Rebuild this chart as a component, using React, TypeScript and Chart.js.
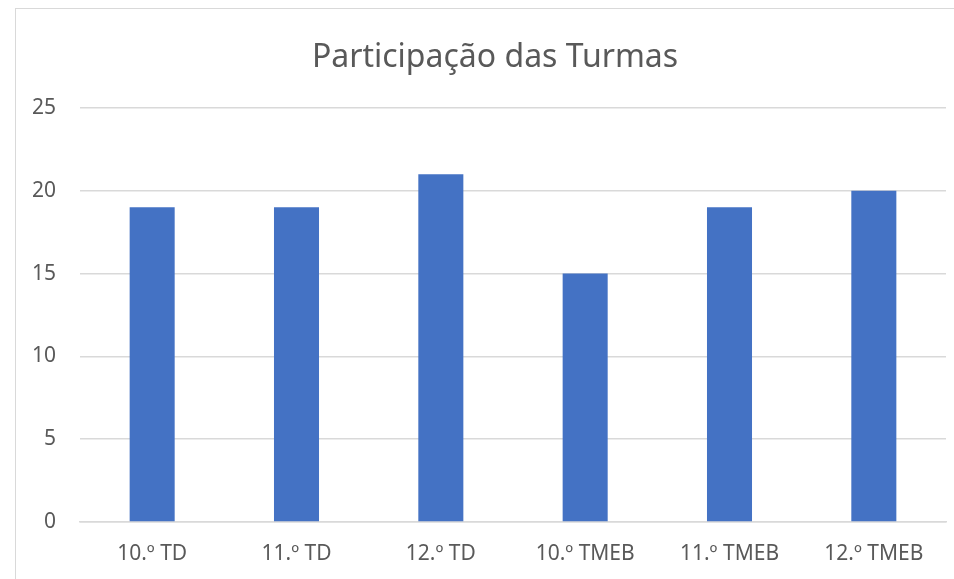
import React, { useEffect, useRef } from "react";
import { Chart, registerables } from "chart.js";

Chart.register(...registerables);

const categories = ["10.º TD", "11.º TD", "12.º TD", "10.º TMEB", "11.º TMEB", "12.º TMEB"];
const participacao = [19, 19, 21, 15, 19, 20];
const titleText = "Participação das Turmas";

const CANVAS_W = 990;

const centerTitlePlugin = {
  id: "centerTitle",
  afterLayout(chart: any) {
    if (chart.titleBlock) {
      chart.titleBlock.left = 0;
      chart.titleBlock.right = CANVAS_W;
      chart.titleBlock.width = CANVAS_W;
    }
  },
};

export default function App() {
  const ref = useRef<HTMLCanvasElement | null>(null);

  useEffect(() => {
    if (!ref.current) return;
    const chart = new Chart(ref.current, {
      type: "bar",
      data: {
        labels: categories,
        datasets: [
          {
            label: "Participação",
            data: participacao,
            backgroundColor: "#4472C4",
            borderWidth: 0,
            barPercentage: 0.312,
            categoryPercentage: 1,
          },
        ],
      },
      options: {
        animation: false,
        responsive: false,
        maintainAspectRatio: false,
        layout: { padding: { left: 0, right: 44, top: 0, bottom: 0 } },
        plugins: {
          legend: { display: false },
          tooltip: { enabled: false },
          title: {
            display: true,
            text: titleText,
            color: "#595959",
            font: { family: "'Noto Sans'", size: 32, weight: "normal" },
            padding: { top: 39, bottom: 30.6 },
          },
        },
        scales: {
          x: {
            grid: { display: false, drawTicks: false },
            border: { display: true, color: "#d9d9d9", width: 1.5 },
            ticks: {
              color: "#595959",
              font: { family: "'Noto Sans'", size: 21 },
              padding: 19,
              maxRotation: 0,
            },
            afterFit: (s: any) => {
              s.height = 57;
            },
          },
          y: {
            min: 0,
            max: 25,
            ticks: {
              stepSize: 5,
              color: "#595959",
              font: { family: "'Noto Sans'", size: 21 },
              padding: 24,
            },
            grid: { color: "#d9d9d9", lineWidth: 1.5, drawTicks: false },
            border: { display: false },
            afterFit: (s: any) => {
              s.width = 80;
            },
          },
        },
      },
      plugins: [centerTitlePlugin],
    });
    return () => chart.destroy();
  }, []);

  return (
    <div style={{ position: "absolute", left: 0, top: 0, width: 954, height: 579, overflow: "hidden", background: "#fff" }}>
      <div
        style={{
          position: "absolute",
          left: 15,
          top: 8,
          width: 1000,
          height: 700,
          border: "1px solid #d9d9d9",
          boxSizing: "border-box",
        }}
      />
      <canvas ref={ref} width={CANVAS_W} height={579} style={{ position: "absolute", left: 0, top: 0 }} />
    </div>
  );
}
